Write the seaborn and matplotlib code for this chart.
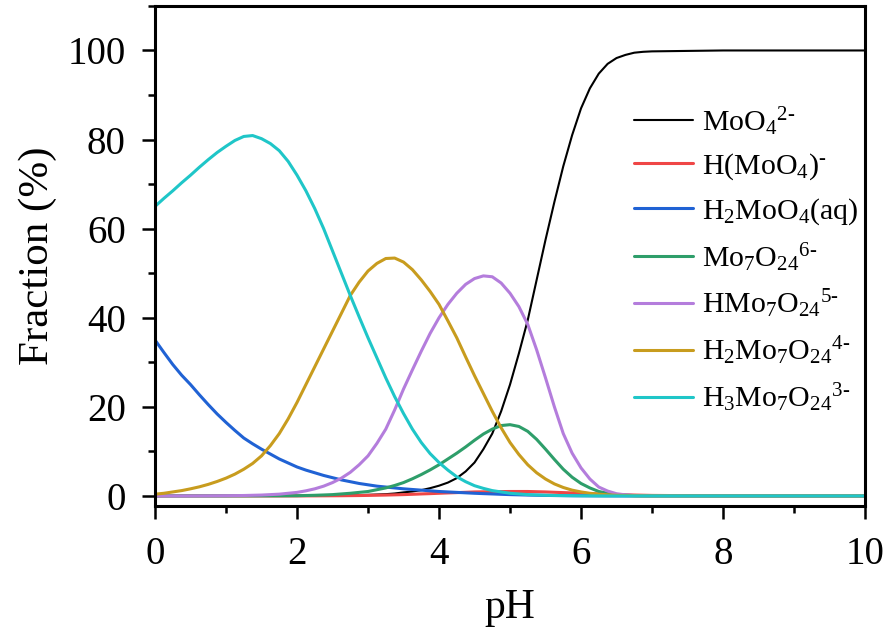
import matplotlib
matplotlib.use("Agg")
import matplotlib.pyplot as plt
import seaborn as sns
import pandas as pd
from matplotlib.ticker import MultipleLocator

# pH grid (0.125 steps up to 7, then coarse) and species fractions (%)
ph = [0, 0.125, 0.25, 0.375, 0.5, 0.625, 0.75, 0.875,
      1, 1.125, 1.25, 1.375, 1.5, 1.625, 1.75, 1.875,
      2, 2.125, 2.25, 2.375, 2.5, 2.625, 2.75, 2.875,
      3, 3.125, 3.25, 3.375, 3.5, 3.625, 3.75, 3.875,
      4, 4.125, 4.25, 4.375, 4.5, 4.625, 4.75, 4.875,
      5, 5.125, 5.25, 5.375, 5.5, 5.625, 5.75, 5.875,
      6, 6.125, 6.25, 6.375, 6.5, 6.625, 6.75, 6.875,
      7, 8, 9, 10]

moo4 = [0, 0, 0, 0, 0, 0, 0, 0,
        0, 0, 0, 0, 0, 0, 0, 0.01,
        0.02, 0.03, 0.05, 0.07, 0.1, 0.12, 0.15, 0.2,
        0.25, 0.32, 0.4, 0.55, 0.8, 1.0, 1.3, 1.75,
        2.3, 3.0, 4.0, 5.5, 7.5, 10.5, 14.0, 19.0,
        25.0, 32.0, 39.5, 48.5, 57.5, 66.0, 74.0, 81.0,
        87.0, 91.5, 94.8, 97.0, 98.3, 99.0, 99.5, 99.7,
        99.8, 100, 100, 100]
hmoo4 = [0, 0, 0, 0, 0, 0, 0, 0,
         0, 0, 0, 0, 0, 0, 0, 0.005,
         0.01, 0.015, 0.02, 0.03, 0.04, 0.05, 0.07, 0.09,
         0.12, 0.16, 0.2, 0.25, 0.3, 0.37, 0.45, 0.52,
         0.6, 0.68, 0.75, 0.82, 0.9, 0.93, 0.95, 0.98,
         1.0, 1.0, 1.0, 0.95, 0.9, 0.82, 0.75, 0.68,
         0.6, 0.52, 0.45, 0.37, 0.3, 0.25, 0.2, 0.16,
         0.12, 0.01, 0, 0]
h2moo4 = [35.0, 32.2, 29.5, 27.1, 25.0, 22.7, 20.5, 18.4,
          16.5, 14.7, 13.0, 11.7, 10.5, 9.4, 8.3, 7.4,
          6.5, 5.8, 5.2, 4.6, 4.1, 3.6, 3.2, 2.8,
          2.5, 2.2, 2.0, 1.8, 1.6, 1.45, 1.3, 1.15,
          1.0, 0.9, 0.8, 0.7, 0.6, 0.52, 0.45, 0.37,
          0.3, 0.25, 0.2, 0.16, 0.12, 0.09, 0.07, 0.05,
          0.04, 0.03, 0.02, 0.015, 0.01, 0.005, 0, 0,
          0, 0, 0, 0]
mo7 = [0, 0, 0, 0, 0, 0, 0, 0,
       0, 0.01, 0.01, 0.015, 0.02, 0.025, 0.03, 0.04,
       0.05, 0.1, 0.15, 0.22, 0.3, 0.45, 0.6, 0.8,
       1.0, 1.4, 1.8, 2.35, 3.0, 3.85, 4.8, 5.85,
       7.0, 8.3, 9.6, 11.0, 12.5, 13.9, 15.0, 15.8,
       16.0, 15.6, 14.5, 12.7, 10.5, 8.2, 6.0, 4.2,
       2.8, 1.8, 1.0, 0.6, 0.3, 0.15, 0.08, 0.04,
       0.02, 0, 0, 0]
hmo7 = [0, 0, 0, 0, 0, 0.01, 0.02, 0.03,
        0.05, 0.07, 0.1, 0.15, 0.2, 0.3, 0.4, 0.6,
        0.8, 1.15, 1.6, 2.2, 3.0, 4.0, 5.3, 7.0,
        9.0, 11.8, 15.0, 19.3, 24.0, 28.3, 32.5, 36.5,
        40.0, 43.0, 45.5, 47.5, 48.8, 49.4, 49.2, 47.8,
        45.5, 42.5, 38.5, 32.8, 26.5, 20.0, 14.0, 9.6,
        6.3, 3.8, 2.0, 1.1, 0.5, 0.25, 0.1, 0.05,
        0.02, 0, 0, 0]
h2mo7 = [0.4, 0.6, 0.9, 1.2, 1.6, 2.05, 2.6, 3.25,
         4.0, 4.9, 6.0, 7.3, 9.0, 11.3, 14.0, 17.3,
         21.0, 25.0, 29.0, 33.0, 37.0, 41.0, 45.0, 48.0,
         50.5, 52.2, 53.3, 53.4, 52.5, 50.8, 48.5, 45.9,
         43.0, 39.3, 35.5, 31.2, 27.0, 23.0, 19.0, 15.3,
         12.0, 9.3, 7.0, 5.2, 3.8, 2.7, 1.9, 1.3,
         0.9, 0.6, 0.4, 0.25, 0.15, 0.1, 0.05, 0.03,
         0.02, 0, 0, 0]
h3mo7 = [65.0, 66.8, 68.5, 70.3, 72.0, 73.8, 75.5, 77.1,
         78.5, 79.8, 80.7, 80.9, 80.2, 79.1, 77.5, 75.1,
         72.0, 68.5, 64.5, 60.0, 55.0, 50.0, 45.0, 40.2,
         35.5, 31.0, 26.5, 22.3, 18.5, 15.0, 12.0, 9.5,
         7.5, 5.8, 4.3, 3.2, 2.3, 1.7, 1.2, 0.9,
         0.6, 0.45, 0.3, 0.22, 0.15, 0.11, 0.08, 0.05,
         0.03, 0.02, 0.01, 0, 0, 0, 0, 0,
         0, 0, 0, 0]

labels = [r"MoO$_4$$^{2\text{-}}$", r"H(MoO$_4$)$^{\text{-}}$", r"H$_2$MoO$_4$(aq)",
          r"Mo$_7$O$_{24}$$^{6\text{-}}$", r"HMo$_7$O$_{24}$$^{5\text{-}}$",
          r"H$_2$Mo$_7$O$_{24}$$^{4\text{-}}$", r"H$_3$Mo$_7$O$_{24}$$^{3\text{-}}$"]
series = [moo4, hmoo4, h2moo4, mo7, hmo7, h2mo7, h3mo7]
colors = ["#000000", "#ef4646", "#2062d4", "#2e9e6a", "#b47ddc", "#c89c1e", "#1fc6c8"]
widths = [1.5, 2.2, 2.2, 2.2, 2.2, 2.2, 2.2]

sns.set_theme(style="ticks")
plt.rcParams["font.family"] = ["Liberation Serif", "DejaVu Serif"]
plt.rcParams["mathtext.fontset"] = "custom"
plt.rcParams["mathtext.rm"] = "Liberation Serif"
plt.rcParams["mathtext.it"] = "Liberation Serif:italic"
plt.rcParams["mathtext.default"] = "regular"
for key in ["text.color", "axes.labelcolor", "xtick.color", "ytick.color", "axes.edgecolor"]:
    plt.rcParams[key] = "black"

fig = plt.figure(figsize=(8.89, 6.37), dpi=100)
ax = fig.add_axes([0.1744, 0.2057, 0.7986, 0.785])

for lab, vals, c, lw in zip(labels, series, colors, widths):
    df = pd.DataFrame({"pH": ph, "Fraction": vals})
    sns.lineplot(data=df, x="pH", y="Fraction", color=c, lw=lw, label=lab, ax=ax)

ax.set_xlim(0, 10)
ax.set_ylim(-2.25, 110)
ax.set_yticks([0, 20, 40, 60, 80, 100])
ax.xaxis.set_major_locator(MultipleLocator(2))
ax.xaxis.set_minor_locator(MultipleLocator(1))
ax.yaxis.set_minor_locator(MultipleLocator(10))
ax.tick_params(which="major", direction="out", length=9.5, width=1.8, labelsize=28, pad=11.5)
ax.tick_params(which="minor", direction="out", length=5, width=1.8)
ax.tick_params(axis="x", which="major", pad=12)
for s in ax.spines.values():
    s.set_linewidth(2.2)

ax.set_xlabel("pH", fontsize=30, labelpad=11)
ax.set_ylabel("Fraction (%)", fontsize=31, labelpad=8)

ax.legend(loc="upper left", bbox_to_anchor=(0.653, 0.832), frameon=False, fontsize=21.5,
          handlelength=2.0, handletextpad=0.3, labelspacing=0.47, borderpad=0)

fig.savefig("out.png", dpi=100)
